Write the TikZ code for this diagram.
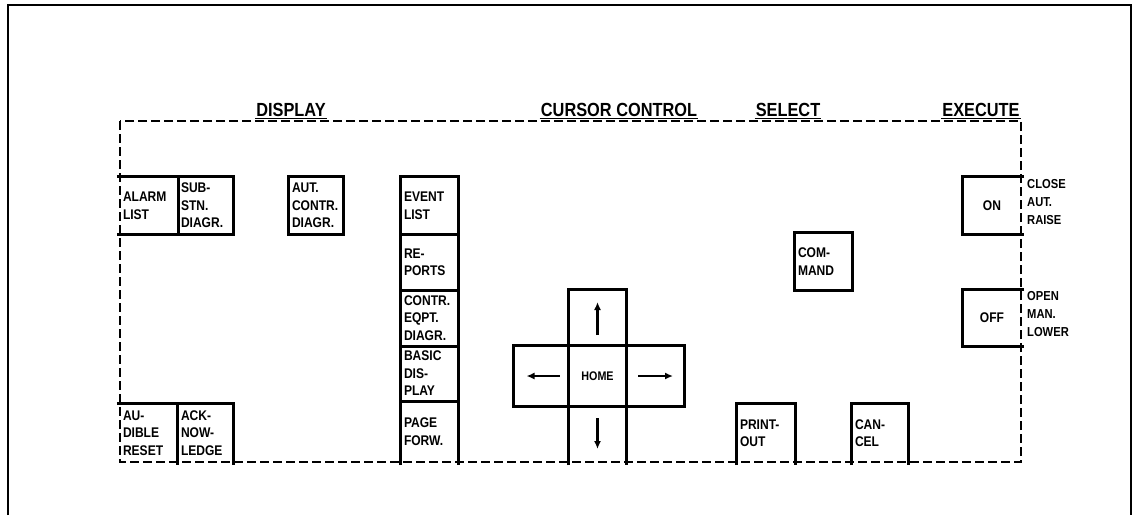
\documentclass[tikz,border=0pt]{standalone}
\usepackage{fontspec}
\newfontfamily\pf{Liberation Sans Bold}[FakeStretch=0.86]
\usetikzlibrary{arrows.meta,calc}
\begin{document}
\begin{tikzpicture}[x=1pt,y=-1pt,
  every node/.style={font=\pf},
  btn/.style 2 args={text width=#1, inner xsep=3pt, inner ysep=0pt, minimum height=#2,
     align=left, font=\pf\fontsize{14}{17.5}\selectfont},
  ctr/.style={align=center},
  edge/.style={line width=2.8pt, line join=miter},
  bord/.style={line width=2.6pt, dash pattern=on 9pt off 4pt},
  hdr/.style={font=\pf\fontsize{19}{20}\selectfont, inner sep=1pt, anchor=base},
  lbl/.style={font=\pf\fontsize{13}{18}\selectfont, align=left, anchor=north west, inner sep=0pt},
  arr/.style={line width=2.4pt, -{Latex[length=8pt,width=7pt]}}]
\useasboundingbox (0,0) rectangle (1135,515);
% outer frame
\draw[line width=2.8pt] (8,515) -- (8,5) -- (1131,5) -- (1131,515);
% dashed panel border
\draw[bord] (120,121) rectangle (1021,462);
% headers
\node[hdr] (hdisp) at (291,116) {DISPLAY};
\node[hdr] (hcur) at (619,116) {CURSOR CONTROL};
\node[hdr] (hsel) at (788,116) {SELECT};
\node[hdr] (hexe) at (981,116) {EXECUTE};
\foreach \h in {hdisp,hcur,hsel,hexe}
  \draw[line width=1.4pt] ([yshift=-2.5pt]\h.base west) -- ([yshift=-2.5pt]\h.base east);
% display buttons
\node[btn={52pt}{57}] (alarm) at (149,205.5) {ALARM\\LIST};
\node[btn={49pt}{57}] (substn) at (205.5,205.5) {SUB-\\STN.\\DIAGR.};
\node[btn={48pt}{57}] (autc) at (316,205.5) {AUT.\\CONTR.\\DIAGR.};
\node[btn={52pt}{58}] (aud) at (149,433) {AU-\\DIBLE\\RESET};
\node[btn={49pt}{58}] (ack) at (205.5,433) {ACK-\\NOW-\\LEDGE};
\draw[edge] ([xshift=-3pt]alarm.north west) -- (substn.north east) -- (substn.south east) -- ([xshift=-3pt]alarm.south west);
\draw[edge] (alarm.north east) -- (alarm.south east);
\draw[edge] (autc.north west) rectangle (autc.south east);
\draw[edge] ([xshift=-3pt]aud.north west) -- (ack.north east) -- ([yshift=-3pt]ack.south east);
\draw[edge] (ack.north west) -- ([yshift=-3pt]ack.south west);
% column
\node[btn={51pt}{57}] (event) at (429.5,205.5) {EVENT\\LIST};
\node[btn={51pt}{56}] (rep) at (429.5,262) {RE-\\PORTS};
\node[btn={51pt}{56}] (ceq) at (429.5,318) {CONTR.\\EQPT.\\DIAGR.};
\node[btn={51pt}{55}] (bas) at (429.5,373.5) {BASIC\\DIS-\\PLAY};
\node[btn={51pt}{61}] (page) at (429.5,431.5) {PAGE\\FORW.};
\draw[edge] ([yshift=-3pt]page.south west) -- (event.north west) -- (event.north east) -- ([yshift=-3pt]page.south east);
\foreach \n in {event,rep,ceq,bas}
  \draw[edge] (\n.south west) -- (\n.south east);
% cursor cross
\node[btn={51pt}{56}, ctr] (up) at (597.5,318) {};
\node[btn={49pt}{60}, ctr] (left) at (541.5,376) {};
\node[btn={51pt}{60}, ctr, font=\pf\fontsize{12.5}{14}\selectfont] (home) at (597.5,376) {HOME};
\node[btn={52pt}{60}, ctr] (right) at (655,376) {};
\node[btn={51pt}{56}, ctr] (down) at (597.5,434) {};
\draw[edge] ([yshift=-3pt]down.south west) -- (up.north west) -- (up.north east) -- ([yshift=-3pt]down.south east);
\draw[edge] (left.north west) rectangle (right.south east);
\draw[arr] ([yshift=-17pt]up.center) -- ([yshift=16pt]up.center);
\draw[arr] ([yshift=16pt]down.center) -- ([yshift=-15pt]down.center);
\draw[arr] ([xshift=18pt]left.center) -- ([xshift=-15pt]left.center);
\draw[arr] ([xshift=-17pt]right.center) -- ([xshift=18pt]right.center);
% select
\node[btn={51pt}{57}] (cmd) at (823.5,261.5) {COM-\\MAND};
\node[btn={52pt}{58}] (prt) at (766,433) {PRINT-\\OUT};
\node[btn={50pt}{58}] (can) at (880,433) {CAN-\\CEL};
\draw[edge] (cmd.north west) rectangle (cmd.south east);
\draw[edge] ([yshift=-3pt]prt.south west) -- (prt.north west) -- (prt.north east) -- ([yshift=-3pt]prt.south east);
\draw[edge] ([yshift=-3pt]can.south west) -- (can.north west) -- (can.north east) -- ([yshift=-3pt]can.south east);
% execute
\node[btn={52pt}{57}, ctr] (on) at (992,205.5) {ON};
\node[btn={52pt}{56}, ctr] (off) at (992,318) {OFF};
\draw[edge] ([xshift=3pt]on.north east) -- (on.north west) -- (on.south west) -- ([xshift=3pt]on.south east);
\draw[edge] ([xshift=3pt]off.north east) -- (off.north west) -- (off.south west) -- ([xshift=3pt]off.south east);
\node[lbl] (close) at (1027,179) {CLOSE\\AUT.\\RAISE};
\node[lbl] (open) at (1027,291) {OPEN\\MAN.\\LOWER};
\end{tikzpicture}
\end{document}
